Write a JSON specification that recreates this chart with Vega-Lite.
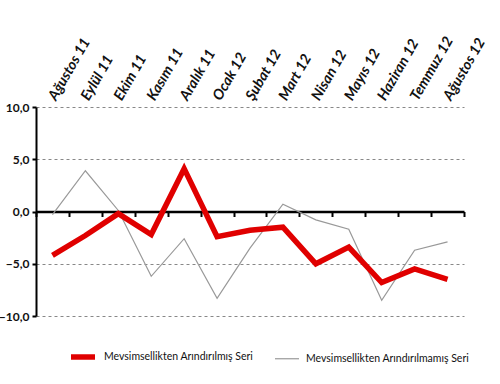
{
  "$schema": "https://vega.github.io/schema/vega-lite/v6.json",
  "width": 428,
  "height": 209,
  "autosize": {"type": "none"},
  "padding": {"left": 36, "top": 107, "right": 36, "bottom": 68},
  "background": "white",
  "config": {
    "view": {"stroke": null},
    "font": "Lato",
    "axis": {"labelFont": "Lato", "labelColor": "#111"}
  },
  "data": {
    "values": [
      {"month": "Ağustos 11", "series": "Mevsimsellikten Arındırılmış Seri", "value": -4.2},
      {"month": "Eylül 11", "series": "Mevsimsellikten Arındırılmış Seri", "value": -2.3},
      {"month": "Ekim 11", "series": "Mevsimsellikten Arındırılmış Seri", "value": -0.2},
      {"month": "Kasım 11", "series": "Mevsimsellikten Arındırılmış Seri", "value": -2.2},
      {"month": "Aralık 11", "series": "Mevsimsellikten Arındırılmış Seri", "value": 4.1},
      {"month": "Ocak 12", "series": "Mevsimsellikten Arındırılmış Seri", "value": -2.4},
      {"month": "Şubat 12", "series": "Mevsimsellikten Arındırılmış Seri", "value": -1.8},
      {"month": "Mart 12", "series": "Mevsimsellikten Arındırılmış Seri", "value": -1.5},
      {"month": "Nisan 12", "series": "Mevsimsellikten Arındırılmış Seri", "value": -5.0},
      {"month": "Mayıs 12", "series": "Mevsimsellikten Arındırılmış Seri", "value": -3.4},
      {"month": "Haziran 12", "series": "Mevsimsellikten Arındırılmış Seri", "value": -6.8},
      {"month": "Temmuz 12", "series": "Mevsimsellikten Arındırılmış Seri", "value": -5.5},
      {"month": "Ağustos 12", "series": "Mevsimsellikten Arındırılmış Seri", "value": -6.5},
      {"month": "Ağustos 11", "series": "Mevsimsellikten Arındırılmamış Seri", "value": -0.3},
      {"month": "Eylül 11", "series": "Mevsimsellikten Arındırılmamış Seri", "value": 3.9},
      {"month": "Ekim 11", "series": "Mevsimsellikten Arındırılmamış Seri", "value": 0.1},
      {"month": "Kasım 11", "series": "Mevsimsellikten Arındırılmamış Seri", "value": -6.2},
      {"month": "Aralık 11", "series": "Mevsimsellikten Arındırılmamış Seri", "value": -2.6},
      {"month": "Ocak 12", "series": "Mevsimsellikten Arındırılmamış Seri", "value": -8.3},
      {"month": "Şubat 12", "series": "Mevsimsellikten Arındırılmamış Seri", "value": -3.5},
      {"month": "Mart 12", "series": "Mevsimsellikten Arındırılmamış Seri", "value": 0.7},
      {"month": "Nisan 12", "series": "Mevsimsellikten Arındırılmamış Seri", "value": -0.8},
      {"month": "Mayıs 12", "series": "Mevsimsellikten Arındırılmamış Seri", "value": -1.7},
      {"month": "Haziran 12", "series": "Mevsimsellikten Arındırılmamış Seri", "value": -8.5},
      {"month": "Temmuz 12", "series": "Mevsimsellikten Arındırılmamış Seri", "value": -3.7},
      {"month": "Ağustos 12", "series": "Mevsimsellikten Arındırılmamış Seri", "value": -2.9}
    ]
  },
  "resolve": {"axis": {"x": "independent"}},
  "layer": [
    {
      "transform": [{"filter": "datum.series == 'Mevsimsellikten Arındırılmamış Seri'"}],
      "mark": {"type": "line"},
      "encoding": {
        "x": {
          "field": "month", "type": "nominal", "sort": null,
          "scale": {"type": "band", "paddingInner": 0, "paddingOuter": 0},
          "axis": {
            "orient": "top", "title": null, "domain": false, "ticks": false, "grid": false,
            "labelAngle": -60, "labelAlign": "left", "labelBaseline": "middle",
            "labelFontSize": 14.5, "labelFontWeight": "bold", "labelFontStyle": "italic",
            "labelPadding": 8
          }
        },
        "y": {
          "field": "value", "type": "quantitative",
          "scale": {"domain": [-10, 10], "nice": false, "zero": false},
          "axis": {
            "title": null, "values": [-10, -5, 0, 5, 10],
            "labelExpr": "replace(format(datum.value, '.1f'), '.', ',')",
            "labelFontSize": 12, "labelFontWeight": "bold", "labelPadding": 3,
            "domainColor": "black", "domainWidth": 2,
            "tickColor": "black", "tickWidth": 2, "tickSize": 4,
            "grid": true, "gridColor": "#888", "gridDash": [3, 3], "gridWidth": 1
          }
        },
        "color": {
          "field": "series", "type": "nominal",
          "scale": {"domain": ["Mevsimsellikten Arındırılmış Seri", "Mevsimsellikten Arındırılmamış Seri"], "range": ["#e00000", "#999999"]},
          "legend": {
            "title": null, "orient": "none", "direction": "horizontal",
            "legendX": 32, "legendY": 235,
            "symbolType": "stroke", "symbolSize": 576,
            "labelFontSize": 10.5, "labelFont": "Lato", "labelColor": "#111",
            "columnPadding": 18, "labelLimit": 300, "labelOffset": 6
          }
        },
        "strokeWidth": {
          "field": "series", "type": "nominal",
          "scale": {"domain": ["Mevsimsellikten Arındırılmış Seri", "Mevsimsellikten Arındırılmamış Seri"], "range": [5.5, 1.2]},
          "legend": {
            "title": null, "orient": "none", "direction": "horizontal",
            "legendX": 32, "legendY": 235,
            "symbolType": "stroke", "symbolSize": 576,
            "labelFontSize": 10.5, "labelFont": "Lato", "labelColor": "#111",
            "columnPadding": 18, "labelLimit": 300, "labelOffset": 6
          }
        }
      }
    },
    {
      "transform": [{"filter": "datum.series == 'Mevsimsellikten Arındırılmış Seri'"}],
      "mark": {"type": "line", "strokeJoin": "miter"},
      "encoding": {
        "x": {
          "field": "month", "type": "nominal", "sort": null,
          "scale": {"type": "band", "paddingInner": 0, "paddingOuter": 0},
          "axis": {
            "orient": "bottom", "title": null, "labels": false, "grid": false,
            "offset": -104.5, "tickBand": "extent",
            "domainColor": "black", "domainWidth": 2.5,
            "tickColor": "black", "tickWidth": 2, "tickSize": 5
          }
        },
        "y": {"field": "value", "type": "quantitative"},
        "color": {"field": "series", "type": "nominal"},
        "strokeWidth": {"field": "series", "type": "nominal"}
      }
    }
  ]
}
